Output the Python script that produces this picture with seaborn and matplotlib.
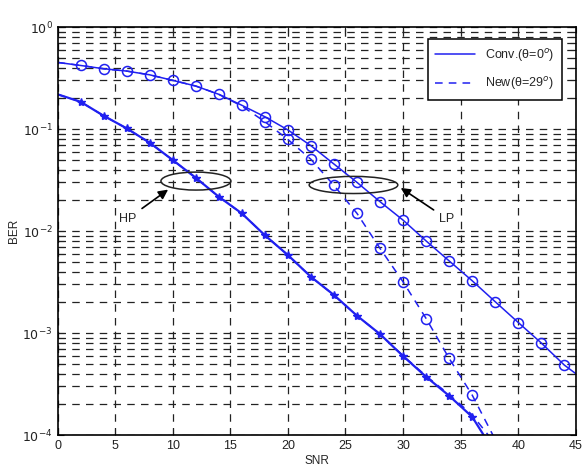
import numpy as np
import matplotlib
matplotlib.use("Agg")
import matplotlib.pyplot as plt
import seaborn as sns
from matplotlib.patches import Ellipse
from matplotlib.lines import Line2D

# data
snr_pts = [2, 4, 6, 8, 10, 12, 14, 16, 18, 20, 22, 24, 26, 28, 30, 32, 34, 36, 38, 40, 42, 44]

# LP, conventional (solid)
lp_conv_x = [0] + snr_pts + [45]
lp_conv = [0.45, 0.42, 0.39, 0.37, 0.34, 0.30, 0.264, 0.219, 0.171, 0.132, 0.098, 0.0687,
           0.0454, 0.030, 0.0194, 0.0128, 0.0080, 0.0051, 0.00326, 0.00203, 0.00127,
           0.00080, 0.000486, 0.00040]

# LP, new (dashed)
lp_new_x = [0, 2, 4, 6, 8, 10, 12, 14, 16, 18, 20, 22, 24, 26, 28, 30, 32, 34, 36, 37.8]
lp_new = [0.45, 0.42, 0.39, 0.37, 0.34, 0.30, 0.264, 0.219, 0.168, 0.118, 0.079, 0.0505,
          0.028, 0.0149, 0.00676, 0.00318, 0.00139, 0.000565, 0.000247, 0.0001]

# HP, conventional (solid) and new (dashed)
hp_x = [0] + snr_pts[:18] + [37.0]
hp_conv = [0.219, 0.185, 0.135, 0.1016, 0.0734, 0.0497, 0.0333, 0.0217, 0.0149, 0.0091,
           0.00582, 0.00356, 0.00236, 0.00148, 0.000977, 0.000595, 0.000373, 0.000243,
           0.000151, 0.0001]
hp_new_x = [0] + snr_pts[:18] + [37.4]
hp_new = [0.219, 0.185, 0.135, 0.1016, 0.0734, 0.0497, 0.0333, 0.0217, 0.0149, 0.0091,
          0.00582, 0.00356, 0.00236, 0.00148, 0.000977, 0.000600, 0.000380, 0.000250,
          0.000158, 0.0001]

x_ticks = [0, 5, 10, 15, 20, 25, 30, 35, 40, 45]

sns.set_theme(style="white")
plt.rcParams["font.family"] = ["Liberation Sans", "DejaVu Sans"]

blue = "#2020f0"
fig = plt.figure(figsize=(5.87, 4.74), dpi=100)
ax = fig.add_axes([0.098, 0.082, 0.883, 0.861])

sns.lineplot(x=lp_conv_x, y=lp_conv, ax=ax, color=blue, lw=1.1, linestyle="-")
sns.lineplot(x=lp_new_x, y=lp_new, ax=ax, color=blue, lw=1.1, linestyle=(0, (5, 4)))
sns.lineplot(x=hp_x, y=hp_conv, ax=ax, color=blue, lw=1.6, linestyle="-")
sns.lineplot(x=hp_new_x, y=hp_new, ax=ax, color=blue, lw=1.1, linestyle=(0, (5, 4)))

# markers
ax.plot(snr_pts, lp_conv[1:-1], "o", ms=7.2, mfc="none", mec=blue, mew=1.1)
ax.plot(lp_new_x[9:-1], lp_new[9:-1], "o", ms=7.2, mfc="none", mec=blue, mew=1.1)
ax.plot(hp_x[1:-1], hp_conv[1:-1], "*", ms=6, color=blue)

ax.set_yscale("log")
ax.set_xlim(0, 45)
ax.set_ylim(1e-4, 1)
ax.set_xticks(x_ticks)
ax.set_xticklabels([str(t) for t in x_ticks])
ax.set_yticks([1e-4, 1e-3, 1e-2, 1e-1, 1])
ax.set_yticklabels(["$10^{-4}$", "$10^{-3}$", "$10^{-2}$", "$10^{-1}$", "$10^{0}$"])
ax.tick_params(axis="both", labelsize=9, colors="#222222", direction="in",
               length=4, width=0.8, which="both", bottom=True, left=True, top=True, right=True)
ax.grid(True, which="major", axis="both", color="#222222", linestyle=(0, (6, 5)), lw=0.9)
ax.grid(True, which="minor", axis="y", color="#222222", linestyle=(0, (6, 5)), lw=0.9)
for sp in ax.spines.values():
    sp.set_color("black")
    sp.set_linewidth(1.2)

ax.set_xlabel("SNR", fontsize=8.5, labelpad=2)
ax.set_ylabel("BER", fontsize=8.5, labelpad=2)

# ellipses around curve pairs
ax.add_patch(Ellipse((0.267, 0.6225), 0.135, 0.044, transform=ax.transAxes,
                     fill=False, ec="#222222", lw=1.1, zorder=5))
ax.add_patch(Ellipse((0.571, 0.613), 0.171, 0.042, transform=ax.transAxes,
                     fill=False, ec="#222222", lw=1.1, zorder=5))

arrow = dict(arrowstyle="-|>", color="black", lw=1.2, mutation_scale=14, shrinkA=2, shrinkB=0)
ax.annotate("HP", xy=(9.6, 0.0255), xytext=(6.1, 0.0132), fontsize=9, ha="center",
            va="center", arrowprops=arrow)
ax.annotate("LP", xy=(29.8, 0.0265), xytext=(33.8, 0.0132), fontsize=9, ha="center",
            va="center", arrowprops=arrow)

handles = [Line2D([], [], color=blue, lw=1.1, linestyle="-"),
           Line2D([], [], color=blue, lw=1.1, linestyle=(0, (5, 4)))]
leg = ax.legend(handles, ["Conv.(θ=0$^{o}$)", "New(θ=29$^{o}$)"],
                loc="upper right", bbox_to_anchor=(0.985, 0.985), fontsize=9,
                frameon=True, fancybox=False, framealpha=1, borderpad=0.6,
                handlelength=3.2, labelspacing=0.9)
leg.get_frame().set_edgecolor("black")
leg.get_frame().set_linewidth(1.1)

fig.savefig("out.png", dpi=100)
